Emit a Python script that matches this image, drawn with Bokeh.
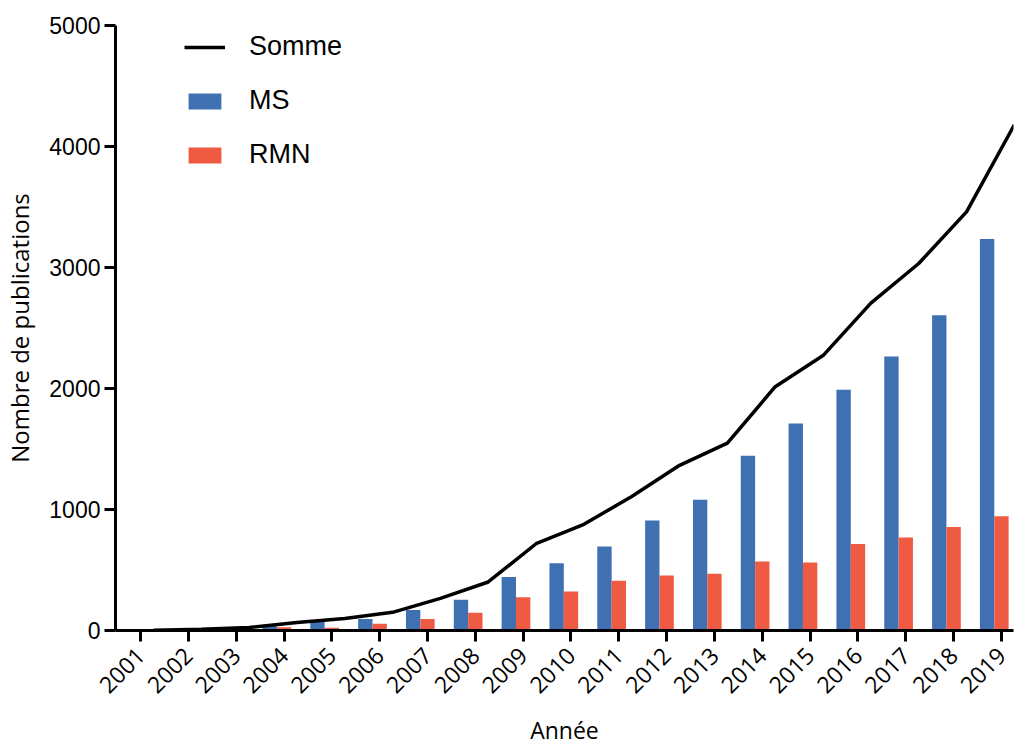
import math
from bokeh.plotting import figure
from bokeh.models import ColumnDataSource, FixedTicker, Legend, LegendItem, Range1d
from bokeh.transform import dodge
from bokeh.embed import file_html
from bokeh.resources import INLINE

# ---- data ----
years = list(range(2001, 2020))
ms = [1, 6, 15, 40, 78, 95, 170, 255, 442, 556, 695, 910, 1080, 1445, 1710, 1990, 2265, 2605, 3235]
rmn = [1, 4, 10, 26, 22, 55, 96, 146, 275, 322, 412, 455, 468, 570, 562, 715, 768, 855, 945]
somme = [2, 10, 25, 66, 100, 150, 266, 401, 717, 878, 1107, 1365, 1548, 2015, 2272, 2705, 3033, 3460, 4180]
y_ticks = [0, 1000, 2000, 3000, 4000, 5000]
year_labels = {y: str(y) for y in years}

BLUE = "#3f70b1"
RED = "#ef5b42"

src = ColumnDataSource(dict(year=years, ms=ms, rmn=rmn, somme=somme))

p = figure(width=1016, height=748, output_backend="svg", toolbar_location=None,
           x_range=Range1d(2000.477, 2019.252), y_range=Range1d(0, 5000),
           min_border_left=115, min_border_right=3, min_border_top=25,
           min_border_bottom=117)

r_ms = p.vbar(x=dodge("year", -0.30), top="ms", bottom=0, width=0.30, source=src,
              fill_color=BLUE, line_color=None)
r_rmn = p.vbar(x="year", top="rmn", bottom=0, width=0.30, source=src,
               fill_color=RED, line_color=None)
r_sum = p.line(x=dodge("year", 0.27), y="somme", source=src, line_color="black",
               line_width=3.5)

p.xgrid.visible = False
p.ygrid.visible = False
p.outline_line_color = None
p.background_fill_color = "white"

for ax in (p.xaxis[0], p.yaxis[0]):
    ax.axis_line_width = 3
    ax.axis_line_color = "black"
    ax.major_tick_line_width = 3
    ax.major_tick_line_color = "black"
    ax.major_tick_in = 0
    ax.minor_tick_line_color = None

xa = p.xaxis[0]
xa.ticker = FixedTicker(ticks=years)
xa.major_label_overrides = year_labels
xa.major_label_orientation = math.pi / 4
xa.major_tick_out = 11
xa.major_label_standoff = 10
xa.major_label_text_font = "Open Sans"
xa.major_label_text_font_size = "23px"
xa.major_label_text_color = "black"
xa.axis_label = "Année"
xa.axis_label_text_font = "Open Sans"
xa.axis_label_text_font_size = "23px"
xa.axis_label_text_font_style = "normal"
xa.axis_label_text_color = "black"
xa.axis_label_standoff = 10

ya = p.yaxis[0]
ya.ticker = FixedTicker(ticks=y_ticks)
ya.major_tick_out = 11
ya.major_label_standoff = 4
ya.major_label_text_font = "Liberation Sans"
ya.major_label_text_font_size = "23px"
ya.major_label_text_color = "black"
ya.axis_label = "Nombre de publications"
ya.axis_label_text_font = "Open Sans"
ya.axis_label_text_font_size = "24px"
ya.axis_label_text_font_style = "normal"
ya.axis_label_text_color = "black"
ya.axis_label_standoff = 10

legend = Legend(items=[LegendItem(label="Somme", renderers=[r_sum]),
                       LegendItem(label="MS", renderers=[r_ms]),
                       LegendItem(label="RMN", renderers=[r_rmn])],
                location=(69, 460), padding=0, margin=0,
                border_line_color=None, background_fill_alpha=0,
                label_text_font="Liberation Sans", label_text_font_size="27px",
                label_text_color="black",
                glyph_width=41, glyph_height=20, label_standoff=24,
                spacing=23, label_height=30)
p.add_layout(legend)

open("out.html", "w").write(file_html(p, INLINE))
